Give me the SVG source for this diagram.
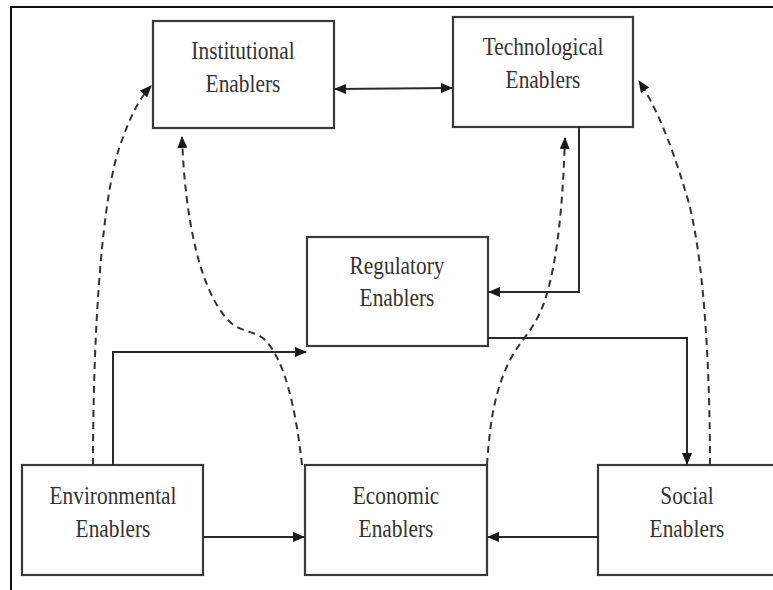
<svg xmlns="http://www.w3.org/2000/svg" width="773" height="590" viewBox="0 0 773 590">
<style>
.box{fill:#fff;stroke:#3a3a3a;stroke-width:2.2}
.lbl{font-size:25px;fill:#333;text-anchor:middle}
.solid{fill:none;stroke:#2a2a2a;stroke-width:2}
.dash{fill:none;stroke:#333;stroke-width:2;stroke-dasharray:7,5}
</style>
<defs>
<marker id="ah" markerWidth="12" markerHeight="10" refX="11" refY="5" orient="auto-start-reverse" markerUnits="userSpaceOnUse">
<path d="M0,0 L12,5 L0,10 z" fill="#1a1a1a"/>
</marker>
</defs>
<rect width="773" height="590" fill="#fff"/>
<path d="M11,590 V7 H773" fill="none" stroke="#111" stroke-width="2"/>

<g font-family="Liberation Serif, DejaVu Serif, serif">
<g id="institutional">
<rect class="box" x="153" y="21" width="181" height="107"/>
<text class="lbl" font-family="Liberation Serif, serif" transform="translate(243,59) scale(0.855,1)">Institutional</text>
<text class="lbl" font-family="Liberation Serif, serif" transform="translate(243,92) scale(0.855,1)">Enablers</text>
</g>
<g id="technological">
<rect class="box" x="453" y="17" width="180" height="110"/>
<text class="lbl" font-family="Liberation Serif, serif" transform="translate(543,55) scale(0.855,1)">Technological</text>
<text class="lbl" font-family="Liberation Serif, serif" transform="translate(543,88) scale(0.855,1)">Enablers</text>
</g>
<g id="regulatory">
<rect class="box" x="307" y="237" width="181" height="109"/>
<text class="lbl" font-family="Liberation Serif, serif" transform="translate(397,274) scale(0.855,1)">Regulatory</text>
<text class="lbl" font-family="Liberation Serif, serif" transform="translate(397,306) scale(0.855,1)">Enablers</text>
</g>
<g id="environmental">
<rect class="box" x="22" y="465" width="181" height="110"/>
<text class="lbl" font-family="Liberation Serif, serif" transform="translate(113,504) scale(0.855,1)">Environmental</text>
<text class="lbl" font-family="Liberation Serif, serif" transform="translate(113,537) scale(0.855,1)">Enablers</text>
</g>
<g id="economic">
<rect class="box" x="305" y="465" width="182" height="110"/>
<text class="lbl" font-family="Liberation Serif, serif" transform="translate(396,504) scale(0.855,1)">Economic</text>
<text class="lbl" font-family="Liberation Serif, serif" transform="translate(396,537) scale(0.855,1)">Enablers</text>
</g>
<g id="social">
<rect class="box" x="598" y="465" width="180" height="110"/>
<text class="lbl" font-family="Liberation Serif, serif" transform="translate(687,504) scale(0.855,1)">Social</text>
<text class="lbl" font-family="Liberation Serif, serif" transform="translate(687,537) scale(0.855,1)">Enablers</text>
</g>
</g>

<g id="connectors">
<path class="solid" d="M335,89 L452,88" marker-start="url(#ah)" marker-end="url(#ah)"/>
<path class="solid" d="M579,127 V292 H489" marker-end="url(#ah)"/>
<path class="solid" d="M113,465 V352 H306" marker-end="url(#ah)"/>
<path class="solid" d="M488,338 H687 V464" marker-end="url(#ah)"/>
<path class="solid" d="M203,537 H304" marker-end="url(#ah)"/>
<path class="solid" d="M598,537 H488" marker-end="url(#ah)"/>
<path class="dash" d="M93,465 C93,330 102,190 122,140 C130,118 138,100 151,86" marker-end="url(#ah)"/>
<path class="dash" d="M302,465 C296,410 285,360 265,340 C255,330 240,333 228,320 C200,290 185,220 182,137" marker-end="url(#ah)"/>
<path class="dash" d="M487,465 C490,420 495,390 510,360 C520,340 535,330 545,300 C558,260 563,200 565,138" marker-end="url(#ah)"/>
<path class="dash" d="M710,465 C710,380 705,250 685,190 C670,140 655,105 639,81" marker-end="url(#ah)"/>
</g>
</svg>
